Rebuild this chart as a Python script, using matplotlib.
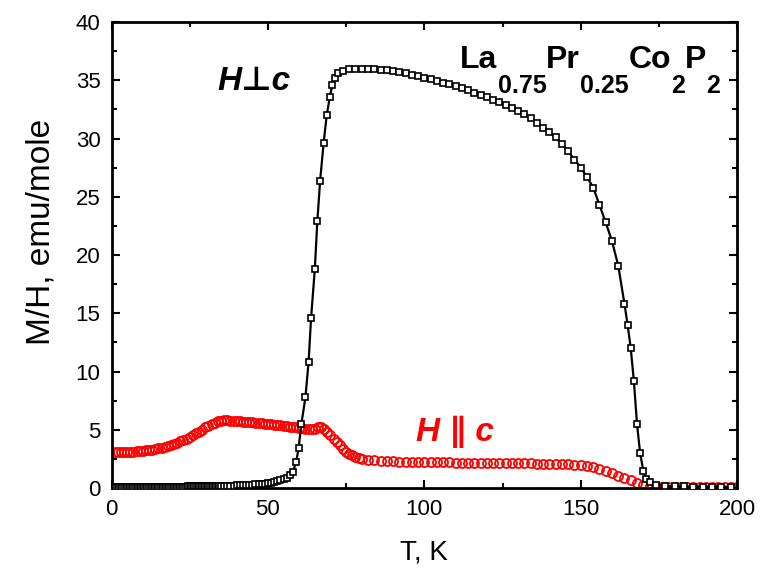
import matplotlib
matplotlib.use("Agg")
import matplotlib.pyplot as plt
from matplotlib.ticker import MultipleLocator

plt.rcParams['font.family'] = ['Liberation Sans', 'DejaVu Sans']

# H perpendicular c (black squares)
t_perp = [0.5, 1, 1.5, 2, 2.5, 3, 3.5, 4, 4.5, 5, 5.5, 6, 6.5, 7, 7.5, 8, 8.5, 9, 9.5, 10,
          10.5, 11, 11.5, 12, 12.5, 13, 13.5, 14, 14.5, 15, 15.5, 16, 16.5, 17, 17.5, 18, 18.5, 19, 19.5, 20,
          20.5, 21, 21.5, 22, 22.5, 23, 23.5, 24, 24.5, 25, 25.5, 26, 26.5, 27, 27.5, 28, 28.5, 29, 29.5, 30,
          30.5, 31, 31.5, 32, 32.5, 33, 33.5, 34, 34.5, 35,
          36, 37, 38, 39, 40, 41, 42, 43, 44, 45, 46, 47, 48, 49, 50, 51, 52, 53, 54, 55, 56, 57, 58, 59, 59.8,
          60.7, 62, 63, 63.8, 65, 65.8, 66.7, 67.8, 68.8, 69.8, 70.6, 71.5, 72.5, 74, 76, 78,
          80, 82, 84, 86, 88, 90, 92, 94, 96, 98, 100, 102, 104, 106, 108, 110, 112, 114,
          116, 118, 120, 122, 124, 126, 128, 130, 132, 134, 136, 138, 140, 142, 144, 146,
          148, 150, 152, 154, 156, 158, 160, 162, 164, 165, 166, 167, 168, 169, 170, 171,
          172, 174, 177, 180, 183, 186, 189, 192, 195, 198]
m_perp = [0.1, 0.1, 0.1, 0.1, 0.1, 0.1, 0.1, 0.1, 0.1, 0.1, 0.1, 0.1, 0.1, 0.1, 0.1, 0.1, 0.1, 0.1, 0.1, 0.1,
          0.1, 0.1, 0.1, 0.1, 0.1, 0.1, 0.1, 0.1, 0.1, 0.1, 0.1, 0.1, 0.1, 0.1, 0.1, 0.1, 0.1, 0.1, 0.1, 0.1,
          0.11, 0.11, 0.11, 0.11, 0.12, 0.12, 0.12, 0.12, 0.13, 0.13, 0.13, 0.13, 0.14, 0.14, 0.14, 0.14, 0.15, 0.15, 0.15, 0.15,
          0.16, 0.16, 0.16, 0.16, 0.17, 0.17, 0.17, 0.18, 0.18, 0.18,
          0.19, 0.2, 0.2, 0.21, 0.22, 0.23, 0.24, 0.26, 0.28, 0.3, 0.31, 0.33, 0.35, 0.38, 0.4, 0.45, 0.5, 0.57, 0.65, 0.75, 0.9, 1.1, 1.4, 2.2, 3.4,
          5.5, 7.8, 10.8, 14.6, 18.8, 22.9, 26.4, 29.6, 32.0, 33.6, 34.6, 35.2, 35.6, 35.8, 35.95, 36.0,
          36.0, 36.0, 35.95, 35.9, 35.85, 35.8, 35.7, 35.6, 35.5, 35.35, 35.2, 35.1, 34.95, 34.8, 34.65, 34.5, 34.35, 34.15,
          33.95, 33.75, 33.55, 33.35, 33.1, 32.85, 32.6, 32.35, 32.1, 31.75, 31.35, 30.95, 30.55, 30.1, 29.5, 28.9,
          28.2, 27.5, 26.7, 25.8, 24.3, 22.8, 21.2, 19.1, 15.8, 14.0, 12.0, 9.2, 5.5, 3.0, 1.5, 0.8,
          0.5, 0.3, 0.2, 0.15, 0.13, 0.12, 0.12, 0.11, 0.11, 0.1]

# H parallel c (red circles)
t_par = [1, 2, 3, 4, 5, 6, 7, 8, 9, 10, 11, 12, 13, 14, 15, 16, 17, 18, 19, 20,
         21, 22, 23, 24, 25, 26, 27, 28, 29, 30, 31, 32, 33, 34, 35, 36, 37, 38, 39, 40,
         41, 42, 43, 44, 45, 46, 47, 48, 49, 50, 51, 52, 53, 54, 55, 56, 57, 58, 59, 60,
         61, 62, 63, 64, 65, 66, 67, 68, 69, 70, 71, 72, 73, 74, 75, 76, 77, 78, 79, 80,
         82, 84, 86, 88, 90, 92, 94, 96, 98, 100, 102, 104, 106, 108, 110, 112, 114, 116,
         118, 120, 122, 124, 126, 128, 130, 132, 134, 136, 138, 140, 142, 144, 146, 148,
         150, 152, 154, 156, 158, 160, 162, 164, 166, 168, 170, 172, 174, 176, 178, 180,
         182, 184, 186, 188, 190, 192, 194, 196, 198, 200]
m_par = [3.1, 3.1, 3.1, 3.1, 3.1, 3.1, 3.12, 3.15, 3.18, 3.2, 3.23, 3.27, 3.3, 3.35, 3.4, 3.47, 3.55, 3.62, 3.7, 3.8,
         3.9, 4.0, 4.12, 4.25, 4.4, 4.55, 4.7, 4.85, 5.0, 5.2, 5.35, 5.5, 5.62, 5.72, 5.78, 5.8, 5.8, 5.78, 5.76, 5.74,
         5.72, 5.7, 5.68, 5.65, 5.63, 5.6, 5.58, 5.55, 5.52, 5.5, 5.47, 5.43, 5.4, 5.37, 5.34, 5.3, 5.27, 5.24, 5.2, 5.17,
         5.14, 5.1, 5.08, 5.05, 5.1, 5.25, 5.2, 5.08, 4.85, 4.55, 4.25, 3.95, 3.65, 3.35, 3.12, 2.95, 2.8, 2.67, 2.57, 2.5,
         2.42, 2.37, 2.33, 2.3, 2.28, 2.26, 2.25, 2.24, 2.23, 2.22, 2.21, 2.2, 2.2, 2.19, 2.18, 2.18, 2.17, 2.16,
         2.16, 2.15, 2.15, 2.14, 2.14, 2.13, 2.12, 2.12, 2.11, 2.1, 2.1, 2.08, 2.06, 2.05, 2.03, 2.0,
         1.95, 1.88, 1.77, 1.63, 1.45, 1.25, 1.05, 0.85, 0.65, 0.45, 0.28, 0.17, 0.12, 0.1, 0.09, 0.08,
         0.08, 0.08, 0.08, 0.08, 0.08, 0.08, 0.08, 0.08, 0.08, 0.08]

# compound name pieces: (text, is_subscript)
formula = [('La', False), ('0.75', True), ('Pr', False), ('0.25', True),
           ('Co', False), ('2', True), ('P', False), ('2', True)]

fig = plt.figure(figsize=(7.67, 5.82), dpi=100)
ax = fig.add_axes([0.1454, 0.1615, 0.8156, 0.8005])

ax.plot(t_par, m_par, linestyle='none', marker='o', markersize=6.5,
        markerfacecolor='none', markeredgecolor='red', markeredgewidth=1.3, zorder=2)
ax.plot(t_perp, m_perp, color='black', linewidth=1.6, marker='s', markersize=5,
        markerfacecolor='white', markeredgecolor='black', markeredgewidth=1.2, zorder=3)

ax.set_xlim(0, 200)
ax.set_ylim(0, 40)
ax.xaxis.set_major_locator(MultipleLocator(50))
ax.xaxis.set_minor_locator(MultipleLocator(25))
ax.yaxis.set_major_locator(MultipleLocator(5))
ax.yaxis.set_minor_locator(MultipleLocator(2.5))
ax.tick_params(which='both', direction='in', top=True, right=True, width=1.5)
ax.tick_params(which='major', length=6, labelsize=16, pad=8)
ax.tick_params(which='minor', length=3.5)
for s in ax.spines.values():
    s.set_linewidth(2)

ax.set_xlabel('T, K', fontsize=20, labelpad=14)
ax.set_ylabel('M/H, emu/mole', fontsize=24, labelpad=8)
ax.yaxis.set_label_coords(-0.088, 0.55)

ax.text(45.6, 34.9, 'H\u22a5c', fontsize=24, fontweight='bold', fontstyle='italic',
        ha='center', va='center')
ax.text(97.5, 4.8, 'H \u2225 c', fontsize=24, fontweight='bold', fontstyle='italic',
        color='red', ha='left', va='center')

# formula drawn piece by piece so the subscripts sit low as in the original
prev = None
for s, sub in formula:
    y = 33.9 if sub else 36.1
    fs = 18 if sub else 23
    if prev is None:
        prev = ax.text(111.5, y, s, fontsize=fs, fontweight='bold',
                       ha='left', va='baseline')
    else:
        prev = ax.annotate(s, xy=(1, y), xycoords=(prev, 'data'), fontsize=fs,
                           fontweight='bold', ha='left', va='baseline')

fig.savefig('out.png', dpi=100)
